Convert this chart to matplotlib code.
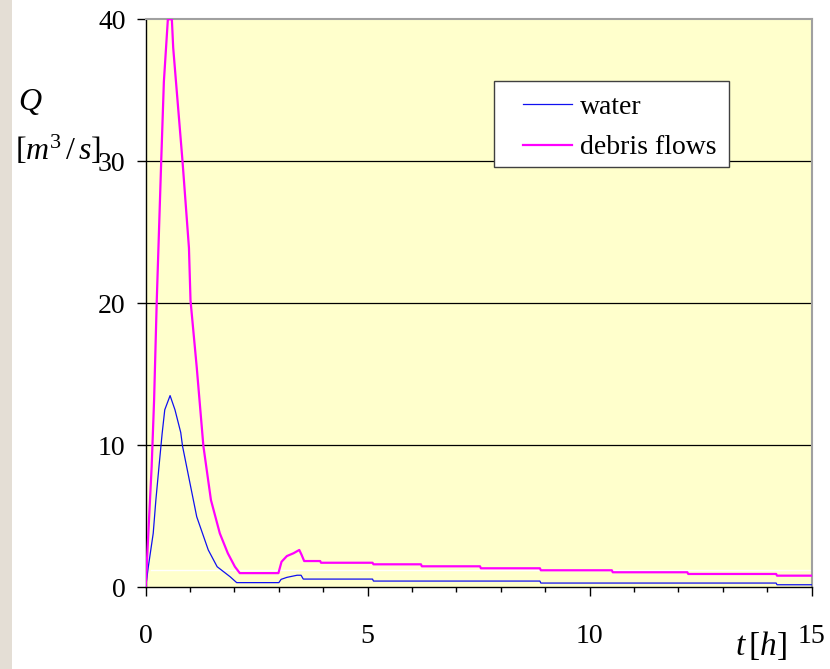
import matplotlib
matplotlib.use('Agg')
import matplotlib.pyplot as plt
from matplotlib.patches import Rectangle
from matplotlib.ticker import MultipleLocator

plt.rcParams['font.family'] = ['Liberation Serif', 'DejaVu Serif']
plt.rcParams['mathtext.fontset'] = 'custom'
plt.rcParams['mathtext.rm'] = 'Liberation Serif'
plt.rcParams['mathtext.it'] = 'Liberation Serif:italic'

# water hydrograph (t in hours, Q in m3/s)
t_water = [0, 0.06, 0.17, 0.23, 0.30, 0.37, 0.43, 0.55, 0.66, 0.79, 0.83, 1.0, 1.15,
           1.41, 1.61, 1.90, 2.05, 3.0, 3.05, 3.18, 3.41, 3.50, 3.55, 5.11, 5.13,
           8.88, 8.90, 14.2, 14.22, 15]
q_water = [0, 1.45, 3.8, 6.15, 8.5, 10.8, 12.5, 13.5, 12.5, 10.9, 9.95, 7.3, 4.97,
           2.63, 1.45, 0.75, 0.33, 0.33, 0.56, 0.70, 0.85, 0.85, 0.58, 0.58, 0.44,
           0.44, 0.30, 0.30, 0.18, 0.18]

# debris flow hydrograph
t_debris = [0, 0.06, 0.135, 0.19, 0.25, 0.35, 0.41, 0.50, 0.59, 0.62, 0.83, 0.975,
            1.01, 1.15, 1.30, 1.47, 1.67, 1.85, 2.01, 2.12, 2.99, 3.06, 3.18, 3.33,
            3.46, 3.51, 3.57, 3.93, 3.95, 5.11, 5.13, 6.20, 6.22, 7.53, 7.55, 8.88,
            8.90, 10.50, 10.52, 12.20, 12.22, 14.20, 14.22, 15]
q_debris = [0, 3.8, 8.5, 13.2, 20.2, 30.0, 35.6, 40.0, 40.0, 38.0, 30.0, 23.9,
            20.2, 15.5, 9.95, 6.15, 3.8, 2.4, 1.45, 1.0, 1.0, 1.8, 2.2, 2.4,
            2.63, 2.3, 1.85, 1.85, 1.73, 1.73, 1.62, 1.62, 1.48, 1.48, 1.34, 1.34,
            1.2, 1.2, 1.06, 1.06, 0.94, 0.94, 0.82, 0.82]

x_ticks = [0, 5, 10, 15]
y_ticks = [0, 10, 20, 30, 40]

fig = plt.figure(figsize=(8.3, 6.69), dpi=100)
fig.add_artist(Rectangle((0, 0), 12 / 830, 1, transform=fig.transFigure,
                         facecolor='#E4DED5', edgecolor='none'))
ax = fig.add_axes([0.1755, 0.1221, 0.8024, 0.8491])
ax.set_facecolor('#FFFFCC')

for yv in [10, 20, 30]:
    ax.axhline(yv, color='black', lw=0.9, zorder=1)
ax.axhline(1.22, xmin=0.008, color='white', lw=1, zorder=1.5)

ax.plot(t_water, q_water, color='#1010F0', lw=0.9, zorder=3, label='water')
ax.plot(t_debris, q_debris, color='#FF00FF', lw=1.6, zorder=3, label='debris flows')

ax.set_xlim(0, 15)
ax.set_ylim(0, 40)
ax.set_xticks(x_ticks)
ax.set_yticks(y_ticks)
ax.xaxis.set_minor_locator(MultipleLocator(1))
ax.tick_params(axis='both', which='major', direction='out', length=6.5, width=1,
               labelsize=20, color='black')
ax.tick_params(axis='x', which='major', pad=20)
ax.tick_params(axis='y', which='major', pad=8)
ax.tick_params(axis='x', which='minor', direction='out', length=3.5, width=1)

for side in ['top', 'right']:
    ax.spines[side].set_color('#A0A0A0')
    ax.spines[side].set_linewidth(1.5)
for side in ['left', 'bottom']:
    ax.spines[side].set_color('black')
    ax.spines[side].set_linewidth(1)

# legend box drawn by hand, entries placed inside it
ax.add_patch(Rectangle((0.523, 0.740), 0.353, 0.151, transform=ax.transAxes,
                       facecolor='white', edgecolor='#404040', lw=1, zorder=4))
leg = ax.legend(loc='upper left', bbox_to_anchor=(0.5665, 0.868), frameon=False,
                fontsize=20, handlelength=1.76, handletextpad=0.3, borderpad=0,
                borderaxespad=0, labelspacing=0.55)
leg.set_zorder(5)

fig.text(18 / 830, 1 - 102 / 669, '$Q$', fontsize=23, va='center', ha='left')
fig.text(15 / 830, 1 - 150 / 669, r'$[m^3\,/\,s]$', fontsize=23, va='center', ha='left')
fig.text(761 / 830, 1 - 645 / 669, r'$t\,[h]$', fontsize=24, va='center', ha='center')

fig.savefig('out.png', dpi=100)
